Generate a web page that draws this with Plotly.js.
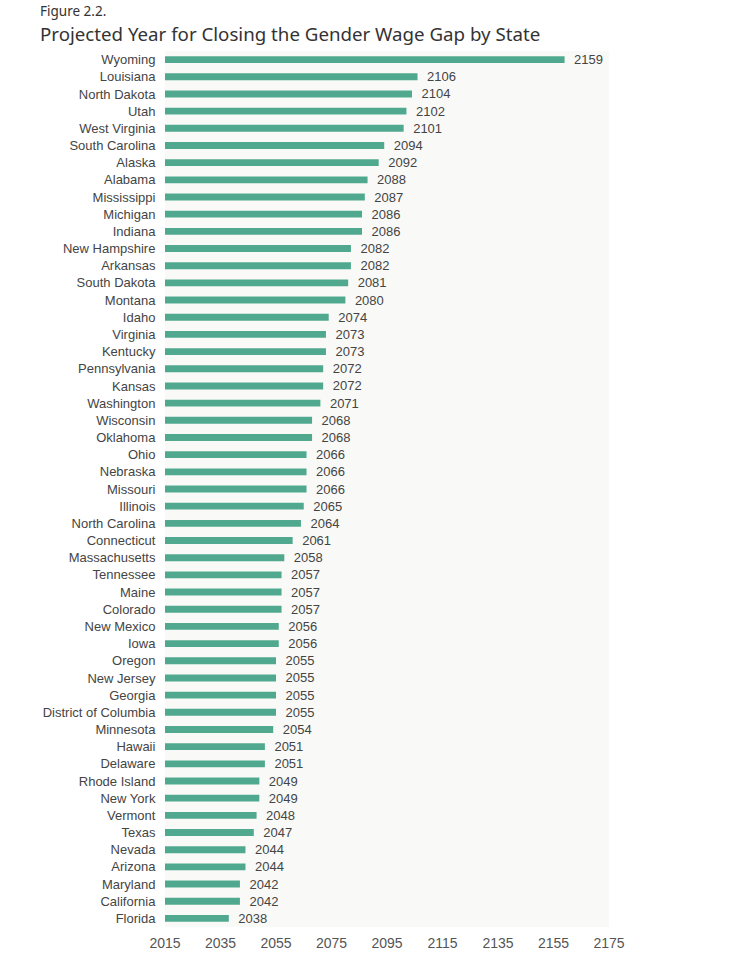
<!DOCTYPE html>
<html>
<head>
<meta charset="utf-8">
<script src="https://cdn.plot.ly/plotly-3.0.1.min.js"></script>
<style>html,body{margin:0;padding:0;background:#fff;}#chart{width:742px;height:958px;}</style>
</head>
<body>
<div id="chart"></div>
<script>
const states = ["Wyoming","Louisiana","North Dakota","Utah","West Virginia","South Carolina","Alaska","Alabama","Mississippi","Michigan","Indiana","New Hampshire","Arkansas","South Dakota","Montana","Idaho","Virginia","Kentucky","Pennsylvania","Kansas","Washington","Wisconsin","Oklahoma","Ohio","Nebraska","Missouri","Illinois","North Carolina","Connecticut","Massachusetts","Tennessee","Maine","Colorado","New Mexico","Iowa","Oregon","New Jersey","Georgia","District of Columbia","Minnesota","Hawaii","Delaware","Rhode Island","New York","Vermont","Texas","Nevada","Arizona","Maryland","California","Florida"];
const years = [2159,2106,2104,2102,2101,2094,2092,2088,2087,2086,2086,2082,2082,2081,2080,2074,2073,2073,2072,2072,2071,2068,2068,2066,2066,2066,2065,2064,2061,2058,2057,2057,2057,2056,2056,2055,2055,2055,2055,2054,2051,2051,2049,2049,2048,2047,2044,2044,2042,2042,2038];
const tickYears = [2015,2035,2055,2075,2095,2115,2135,2155,2175];

const trace = {
  type: 'bar',
  orientation: 'h',
  y: states,
  x: years,
  width: 0.4,
  marker: {color: '#50a98f'},
  text: years.map(v => '\u2002' + v),
  textposition: 'outside',
  constraintext: 'none',
  cliponaxis: false,
  textfont: {family: 'Liberation Sans, Arial, sans-serif', size: 13, color: '#444'},
  hoverinfo: 'none'
};

const layout = {
  width: 742, height: 958,
  margin: {l: 165, r: 133, t: 51, b: 31},
  paper_bgcolor: '#ffffff',
  plot_bgcolor: '#f9faf7',
  showlegend: false,
  xaxis: {
    range: [2015, 2175],
    tickvals: tickYears,
    ticktext: tickYears.map(String),
    showgrid: false, zeroline: false, showline: false,
    ticks: 'outside', ticklen: 3, tickcolor: 'rgba(0,0,0,0)',
    tickfont: {family: 'Liberation Sans, Arial, sans-serif', size: 14, color: '#555'}
  },
  yaxis: {
    autorange: 'reversed',
    showgrid: false, zeroline: false, showline: false,
    ticks: 'outside', ticklen: 6, tickcolor: 'rgba(0,0,0,0)',
    tickfont: {family: 'Liberation Sans, Arial, sans-serif', size: 13, color: '#444'}
  },
  annotations: [
    {text: 'Figure 2.2.', xref: 'paper', yref: 'paper', x: -0.2865, y: 1.0, xanchor: 'left', yanchor: 'bottom',
     yshift: 29, showarrow: false, font: {family: 'Noto Sans, sans-serif', size: 13.5, color: '#333'}},
    {text: 'Projected Year for Closing the Gender Wage Gap by State', xref: 'paper', yref: 'paper', x: -0.2865, y: 1.0,
     xanchor: 'left', yanchor: 'bottom', yshift: 3, showarrow: false, font: {family: 'Noto Sans, sans-serif', size: 18.7, color: '#333'}}
  ]
};

Plotly.newPlot('chart', [trace], layout, {displayModeBar: false, staticPlot: true});
</script>
</body>
</html>
